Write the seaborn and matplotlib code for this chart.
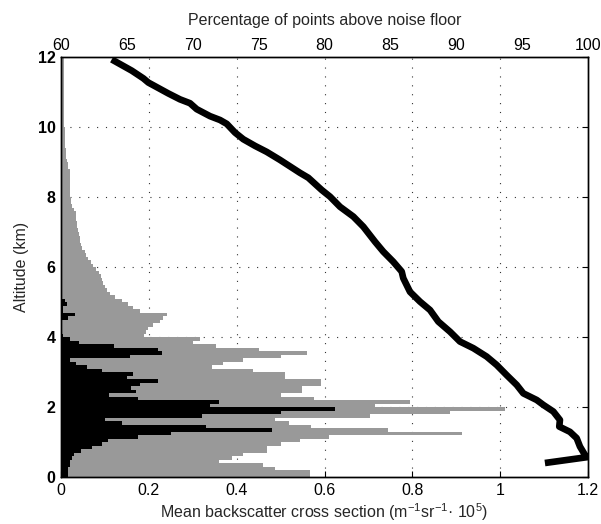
import numpy as np
import pandas as pd
import matplotlib
matplotlib.use("Agg")
import matplotlib.pyplot as plt
import seaborn as sns

# ---------------- data ----------------
bin_width_km = 0.1
alt_range_km = (0, 12)
alt_centers = np.arange(alt_range_km[0], alt_range_km[1], bin_width_km) + bin_width_km / 2

# mean backscatter of all points (grey), per 0.1 km bin from the ground up
backscatter_all = [
    0.567, 0.567, 0.487, 0.46, 0.36, 0.39, 0.415, 0.468, 0.47, 0.50,
    0.544, 0.61, 0.912, 0.745, 0.57, 0.52, 0.487, 0.704, 0.886, 1.011,
    0.715, 0.795, 0.575, 0.502, 0.548, 0.548, 0.593, 0.593, 0.51, 0.51,
    0.438, 0.343, 0.37, 0.415, 0.50, 0.56, 0.45, 0.354, 0.30, 0.316,
    0.19, 0.193, 0.197, 0.21, 0.225, 0.233, 0.241, 0.18, 0.165, 0.153,
    0.138, 0.123, 0.112, 0.105, 0.100, 0.096, 0.093, 0.090, 0.086, 0.080,
    0.074, 0.068, 0.062, 0.058, 0.054, 0.048, 0.046, 0.043, 0.043, 0.041,
    0.039, 0.037, 0.036, 0.035, 0.035, 0.034, 0.030, 0.024, 0.023, 0.022,
    0.020, 0.020, 0.020, 0.020, 0.020, 0.020, 0.020, 0.020, 0.017, 0.015,
    0.013, 0.012, 0.011, 0.011, 0.010, 0.009, 0.008, 0.008, 0.008, 0.008,
    0.007, 0.007, 0.007, 0.007, 0.007, 0.007, 0.007, 0.007, 0.007, 0.007,
    0.007, 0.007, 0.007, 0.007, 0.007, 0.006, 0.006, 0.006, 0.006, 0.006,
]

# mean backscatter of the selected subset (black)
backscatter_sub = [
    0.015, 0.015, 0.015, 0.02, 0.02, 0.025, 0.03, 0.045, 0.07, 0.093,
    0.108, 0.176, 0.25, 0.48, 0.33, 0.14, 0.10, 0.32, 0.50, 0.624,
    0.34, 0.36, 0.176, 0.11, 0.17, 0.16, 0.18, 0.22, 0.15, 0.165,
    0.093, 0.06, 0.035, 0.02, 0.157, 0.23, 0.22, 0.12, 0.04, 0.02,
    0.005, 0.003, 0.003, 0.003, 0.003, 0.017, 0.032, 0.004, 0.004, 0.013,
    0.010, 0, 0, 0, 0, 0, 0, 0, 0, 0,
] + [0] * 60

# percentage of points above noise floor vs altitude
pct_points = [63.85, 65.37, 66.25, 66.63, 68.14, 69.03, 69.79, 70.30, 71.31,
              72.07, 72.58, 73.21, 73.84, 74.73, 75.61, 76.62, 78.14, 78.77,
              79.79, 80.42, 81.18, 82.19, 82.95, 83.84, 84.46, 85.22, 85.86,
              85.98, 86.49, 87.25, 88.01, 88.64, 89.53, 90.28, 91.30, 92.31,
              93.07, 93.83, 94.59, 95.09, 96.11, 96.61, 97.37, 97.87, 97.82,
              98.63, 99.14, 99.39, 99.77, 100.0, 96.73]
pct_alt = [11.93, 11.61, 11.39, 11.27, 10.96, 10.79, 10.68, 10.51, 10.31,
           10.20, 10.09, 9.84, 9.65, 9.46, 9.29, 9.06, 8.69, 8.55,
           8.20, 8.01, 7.72, 7.44, 7.15, 6.72, 6.44, 6.15, 5.87,
           5.68, 5.29, 5.01, 4.77, 4.44, 4.15, 3.87, 3.68, 3.44,
           3.20, 2.91, 2.63, 2.39, 2.20, 2.06, 1.87, 1.63, 1.44,
           1.29, 1.11, 0.87, 0.63, 0.57, 0.40]

bottom_ticks = [0, 0.2, 0.4, 0.6, 0.8, 1, 1.2]
bottom_ticklabels = ["0", "0.2", "0.4", "0.6", "0.8", "1", "1.2"]
top_ticks = [60, 65, 70, 75, 80, 85, 90, 95, 100]
alt_ticks = [0, 2, 4, 6, 8, 10, 12]

# ---------------- style ----------------
sns.set_theme(style="white")
plt.rcParams["font.family"] = ["Liberation Sans", "DejaVu Sans"]
plt.rcParams["mathtext.fontset"] = "custom"
plt.rcParams["mathtext.rm"] = "Liberation Sans"
plt.rcParams["mathtext.it"] = "Liberation Sans:italic"
plt.rcParams["mathtext.bf"] = "Liberation Sans:bold"

fig = plt.figure(figsize=(6.01, 5.24), dpi=100)
ax = fig.add_axes([61 / 601, 47 / 524, 527 / 601, 420 / 524])

df_all = pd.DataFrame({"alt": alt_centers, "w": backscatter_all})
df_sub = pd.DataFrame({"alt": alt_centers, "w": backscatter_sub})

sns.histplot(data=df_all, y="alt", weights="w", binwidth=bin_width_km,
             binrange=alt_range_km, ax=ax,
             color="#999999", alpha=1, linewidth=0, edgecolor="none")
sns.histplot(data=df_sub, y="alt", weights="w", binwidth=bin_width_km,
             binrange=alt_range_km, ax=ax,
             color="black", alpha=1, linewidth=0, edgecolor="none")

ax.set_xlim(0, 1.2)
ax.set_ylim(0, 12)
ax.set_xticks(bottom_ticks)
ax.set_xticklabels(bottom_ticklabels)
ax.set_yticks(alt_ticks)
ax.set_yticklabels([str(t) for t in alt_ticks], fontweight="bold")
ax.tick_params(axis="both", direction="in", length=4, width=0.8,
               top=True, right=True, labelsize=11.5, colors="black", pad=4)
ax.tick_params(axis="x", top=True, labeltop=False)
ax.set_xlabel("Mean backscatter cross section (m$^{-1}$sr$^{-1}$· 10$^{5}$)",
              fontsize=11.5, labelpad=3)
ax.set_ylabel("Altitude (km)", fontsize=11.5, labelpad=6)

# dotted grid (under the bars)
ax.set_axisbelow(True)
for xv in bottom_ticks[1:-1]:
    ax.axvline(xv, color="#333333", lw=0.8, ls=(0, (1, 7)), zorder=0)
for yv in alt_ticks[1:-1]:
    ax.axhline(yv, color="#333333", lw=0.8, ls=(0, (1, 7)), zorder=0)

for s in ax.spines.values():
    s.set_color("black")
    s.set_linewidth(1.0)

# top axis: percentage
ax2 = ax.twiny()
sns.lineplot(x=pct_points, y=pct_alt, sort=False, estimator=None, ax=ax2,
             color="black", lw=4.8, solid_capstyle="butt")
ax2.set_xlim(60, 100)
ax2.set_ylim(0, 12)
ax2.set_xticks(top_ticks)
ax2.set_xticklabels([str(t) for t in top_ticks])
ax2.tick_params(axis="x", length=0, labelsize=11.5, pad=3, colors="black")
ax2.set_xlabel("Percentage of points above noise floor", fontsize=11.5,
               labelpad=9)
for s in ax2.spines.values():
    s.set_color("black")
    s.set_linewidth(1.0)
ax2.grid(False)

fig.savefig("out.png", dpi=100)
